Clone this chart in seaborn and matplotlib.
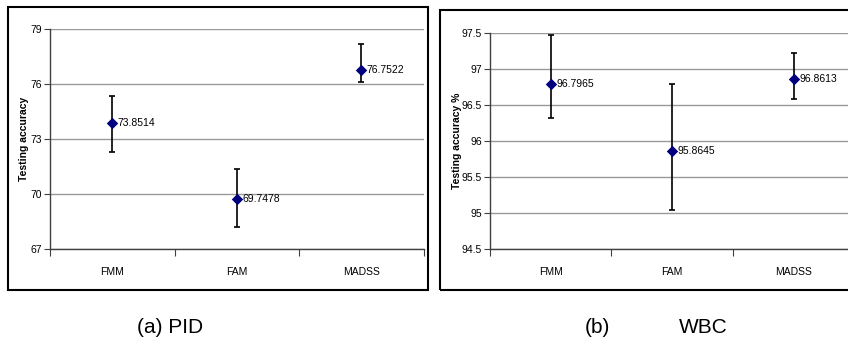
import matplotlib
matplotlib.use("Agg")
import matplotlib.pyplot as plt
import seaborn as sns
import pandas as pd
from matplotlib.patches import Rectangle

# data
methods = ["FMM", "FAM", "MADSS"]

pid_mean = [73.8514, 69.7478, 76.7522]
pid_low = [72.30, 68.22, 76.13]
pid_high = [75.35, 71.38, 78.18]

wbc_mean = [96.7965, 95.8645, 96.8613]
wbc_low = [96.32, 95.04, 96.58]
wbc_high = [97.47, 96.79, 97.23]

pid_ticks = [67, 70, 73, 76, 79]
wbc_ticks = [94.5, 95, 95.5, 96, 96.5, 97, 97.5]
wbc_ticklabels = ["94.5", "95", "95.5", "96", "96.5", "97", "97.5"]

sns.set_style("white")
plt.rcParams["font.family"] = ["Liberation Sans", "DejaVu Sans"]
plt.rcParams["text.color"] = "black"
plt.rcParams["axes.labelcolor"] = "black"
plt.rcParams["xtick.labelcolor"] = "black"
plt.rcParams["ytick.labelcolor"] = "black"

fig = plt.figure(figsize=(8.48, 3.43), dpi=100)

# panel frames
fig.patches.append(Rectangle((0.0094, 0.1545), 0.4953, 0.8255, transform=fig.transFigure,
                             fill=False, edgecolor="black", linewidth=1.5))
fig.patches.append(Rectangle((0.5189, 0.1545), 0.5, 0.8160, transform=fig.transFigure,
                             fill=False, edgecolor="black", linewidth=1.5))

ax1 = fig.add_axes([0.059, 0.274, 0.4405, 0.6414])
ax2 = fig.add_axes([0.5778, 0.274, 0.4298, 0.629])


def draw_panel(ax, mean, low, high, ticks, ticklabels, ylabel, label_x):
    df = pd.DataFrame({"method": methods, "acc": mean})
    pos = list(range(len(methods)))
    yerr = [[m - l for m, l in zip(mean, low)], [h - m for m, h in zip(mean, high)]]
    ax.errorbar(pos, mean, yerr=yerr, fmt="none", ecolor="black",
                elinewidth=1.2, capsize=2.5, capthick=1.2, zorder=3)
    sns.scatterplot(data=df, x=pos, y="acc", marker="D", color="#000080",
                    s=34, edgecolor="#000080", linewidth=0, ax=ax, zorder=4)
    for x, m in zip(pos, mean):
        ax.annotate(f"{m:g}", (x, m), xytext=(4, 0), textcoords="offset points",
                    va="center", ha="left", fontsize=7.5)

    ax.set_xlim(-0.5, len(methods) - 0.5)
    ax.set_ylim(ticks[0], ticks[-1])
    ax.set_yticks(ticks)
    ax.set_yticklabels(ticklabels, fontsize=7.5)
    ax.set_xticks([-0.5, 0.5, 1.5, 2.5])
    ax.set_xticklabels([])
    ax.set_xticks(pos, minor=True)
    ax.set_xticklabels(methods, minor=True, fontsize=7.5)
    ax.tick_params(axis="x", which="major", direction="out", length=5, width=0.8,
                   color="#404040", bottom=True)
    ax.tick_params(axis="x", which="minor", length=0, pad=13)
    ax.tick_params(axis="y", direction="out", length=4, width=0.8, color="#404040",
                   left=True, pad=2)
    ax.yaxis.grid(True, color="#999999", linewidth=1.0)
    ax.set_axisbelow(True)
    for side in ["top", "right"]:
        ax.spines[side].set_visible(False)
    for side in ["left", "bottom"]:
        ax.spines[side].set_color("#404040")
        ax.spines[side].set_linewidth(1.0)
    ax.set_xlabel("")
    ax.set_ylabel(ylabel, fontsize=7.5, fontweight="bold", va="center")
    ax.yaxis.set_label_coords(label_x, 0.5)


draw_panel(ax1, pid_mean, pid_low, pid_high, pid_ticks,
           [str(t) for t in pid_ticks], "Testing accuracy", -0.07)
draw_panel(ax2, wbc_mean, wbc_low, wbc_high, wbc_ticks, wbc_ticklabels,
           "Testing accuracy %", -0.09)

fig.text(0.2005, 0.044, "(a) PID", ha="center", va="center", fontsize=15)
fig.text(0.7040, 0.044, "(b)", ha="center", va="center", fontsize=15)
fig.text(0.8290, 0.044, "WBC", ha="center", va="center", fontsize=15)

fig.savefig("out.png", dpi=100)
